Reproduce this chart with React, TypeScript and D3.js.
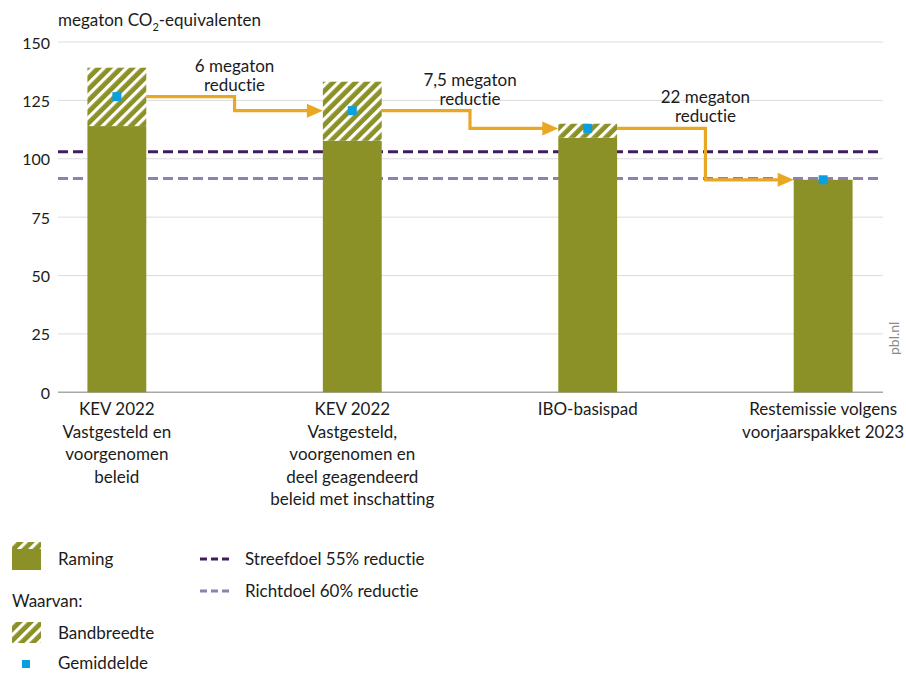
import React from "react";
import * as d3 from "d3";

/* DATA */
const categories = ["kev-vast", "kev-deel", "ibo", "rest"];
const categoryLabels = [
  ["KEV 2022", "Vastgesteld en", "voorgenomen", "beleid"],
  ["KEV 2022", "Vastgesteld,", "voorgenomen en", "deel geagendeerd", "beleid met inschatting"],
  ["IBO-basispad"],
  ["Restemissie volgens", "voorjaarspakket 2023"],
];
const lowValues = [114, 107.7, 109, 91];
const highValues = [139, 133, 115, 91];
const meanValues = [126.6, 120.6, 113, 91];
const streefdoel = 103;
const richtdoel = 91.6;
const reductionLabels = [
  ["6 megaton", "reductie"],
  ["7,5 megaton", "reductie"],
  ["22 megaton", "reductie"],
];
const yTicks = [0, 25, 50, 75, 100, 125, 150];

const W = 906;
const H = 673;
const margin = { top: 42, right: 23, bottom: 281, left: 58 };

const olive = "#8b9126";
const blue = "#0b9fe0";
const gold = "#e9a824";
const darkPurple = "#3f1d5c";
const lightPurple = "#8f80ad";
const font = "Lato, 'Open Sans', sans-serif";
const textColor = "#1b1b1b";
const fs = 17;

function App() {
  const x = d3
    .scaleBand()
    .domain(categories)
    .range([margin.left, W - margin.right - 1])
    .paddingInner(0.75)
    .paddingOuter(0.125);

  const y = d3
    .scaleLinear()
    .domain([0, 150])
    .range([H - margin.bottom + 0.3, margin.top]);

  const bw = x.bandwidth();

  // step arrows between the means
  const arrows = categories.slice(0, -1).map((c, i) => {
    const x0 = (x(c) as number) + bw;
    const x1 = x(categories[i + 1]) as number;
    const xm = (x0 + x1) / 2;
    const y0 = y(meanValues[i]);
    const y1 = y(meanValues[i + 1]);
    const path = d3.path();
    path.moveTo(x0, y0);
    path.lineTo(xm, y0);
    path.lineTo(xm, y1);
    path.lineTo(x1 - 14, y1);
    return { x0, x1, xm, y0, y1, d: path.toString() };
  });

  return (
    <div style={{ position: "absolute", left: 0, top: 0 }}>
      <svg
        width={W}
        height={H}
        style={{ display: "block", fontFamily: font, fontVariantLigatures: "none" }}
      >
        <defs>
          <pattern
            id="hatch"
            patternUnits="userSpaceOnUse"
            width={8}
            height={8}
            patternTransform="rotate(45)"
          >
            <rect width={8} height={8} fill={olive} />
            <rect width={3.2} height={8} fill="#fff" />
          </pattern>
        </defs>
        <rect width={W} height={H} fill="#fff" />

        {/* title */}
        <text x={margin.left} y={26} fontSize={fs} fill={textColor}>
          megaton CO
          <tspan fontSize={11} dy={5}>2</tspan>
          <tspan dy={-5}>-equivalenten</tspan>
        </text>

        {/* grid */}
        <g>
          {yTicks.map((t) => (
            <g key={t}>
              <line
                x1={margin.left}
                x2={W - margin.right}
                y1={y(t)}
                y2={y(t)}
                stroke={t === 0 ? "#a8a8a8" : "#dcdcdc"}
                strokeWidth={t === 0 ? 1.5 : 1}
              />
              <text
                x={50}
                y={y(t)}
                textAnchor="end"
                dominantBaseline="central"
                fontSize={16}
                fill={textColor}
              >
                {t}
              </text>
            </g>
          ))}
        </g>

        {/* target lines */}
        <line
          x1={margin.left}
          x2={W - margin.right}
          y1={y(streefdoel)}
          y2={y(streefdoel)}
          stroke={darkPurple}
          strokeWidth={3}
          strokeDasharray="10,5"
        />
        <line
          x1={margin.left}
          x2={W - margin.right}
          y1={y(richtdoel)}
          y2={y(richtdoel)}
          stroke={lightPurple}
          strokeWidth={3}
          strokeDasharray="10,5"
        />

        {/* bars */}
        <g>
          {categories.map((c, i) => (
            <g key={c}>
              <rect
                x={x(c)}
                y={y(lowValues[i])}
                width={bw}
                height={y(0) - y(lowValues[i])}
                fill={olive}
              />
              {highValues[i] > lowValues[i] && (
                <rect
                  x={x(c)}
                  y={y(highValues[i])}
                  width={bw}
                  height={y(lowValues[i]) - y(highValues[i])}
                  fill="url(#hatch)"
                />
              )}
            </g>
          ))}
        </g>

        {/* arrows */}
        <g>
          {arrows.map((a, i) => (
            <g key={i}>
              <path d={a.d} fill="none" stroke={gold} strokeWidth={3.2} />
              <path
                d={`M${a.x1},${a.y1} L${a.x1 - 16},${a.y1 - 7} L${a.x1 - 16},${a.y1 + 7} Z`}
                fill={gold}
              />
              <text textAnchor="middle" fontSize={fs} fill={textColor}>
                <tspan x={a.xm} y={a.y0 - 25}>
                  {reductionLabels[i][0]}
                </tspan>
                <tspan x={a.xm} y={a.y0 - 6}>
                  {reductionLabels[i][1]}
                </tspan>
              </text>
            </g>
          ))}
        </g>

        {/* means */}
        <g>
          {categories.map((c, i) => (
            <rect
              key={c}
              x={(x(c) as number) + bw / 2 - 4.5}
              y={y(meanValues[i]) - 4.5}
              width={9}
              height={9}
              fill={blue}
            />
          ))}
        </g>

        {/* category labels */}
        <g>
          {categories.map((c, i) => (
            <text key={c} textAnchor="middle" fontSize={fs} fill={textColor}>
              {categoryLabels[i].map((l, j) => (
                <tspan key={j} x={(x(c) as number) + bw / 2} y={415 + j * 22.5}>
                  {l}
                </tspan>
              ))}
            </text>
          ))}
        </g>

        {/* source */}
        <text transform={`translate(899, 355) rotate(-90)`} fontSize={14} fill="#8a8a8a">
          pbl.nl
        </text>

        {/* legend */}
        <g fontSize={fs} fill={textColor}>
          <rect x={12} y={542} width={29} height={28} fill={olive} />
          <rect x={12} y={542} width={29} height={7} fill="url(#hatch)" />
          <text x={58} y={558} dominantBaseline="central">
            Raming
          </text>
          <text x={12} y={600} dominantBaseline="central">
            Waarvan:
          </text>
          <rect x={12} y={622} width={29} height={21} fill="url(#hatch)" />
          <text x={58} y={632} dominantBaseline="central">
            Bandbreedte
          </text>
          <rect x={22} y={660} width={8} height={8} fill={blue} />
          <text x={58} y={662} dominantBaseline="central">
            Gemiddelde
          </text>

          <line x1={200} x2={229} y1={559} y2={559} stroke={darkPurple} strokeWidth={3} strokeDasharray="7,4" />
          <text x={245} y={558} dominantBaseline="central">
            Streefdoel 55% reductie
          </text>
          <line x1={200} x2={229} y1={591} y2={591} stroke={lightPurple} strokeWidth={3} strokeDasharray="7,4" />
          <text x={245} y={590} dominantBaseline="central">
            Richtdoel 60% reductie
          </text>
        </g>
      </svg>
    </div>
  );
}

export default App;
